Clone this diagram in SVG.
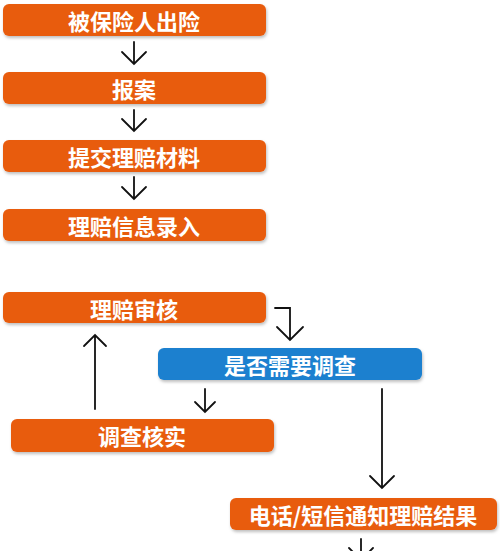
<svg xmlns="http://www.w3.org/2000/svg" width="500" height="551" viewBox="0 0 500 551">
<defs>
<filter id="sh" x="-5%" y="-20%" width="110%" height="150%">
<feDropShadow dx="1" dy="2" stdDeviation="1.5" flood-color="#000" flood-opacity="0.25"/>
</filter>
</defs>
<style>
.o{fill:#e85b0e;filter:url(#sh)}
.b{fill:#1b80cf;filter:url(#sh)}
.t{fill:#fff;font-family:"Noto Sans CJK SC","Noto Sans",sans-serif;font-weight:bold;font-size:22px;text-anchor:middle;dominant-baseline:central}
.c{fill:none;stroke:#111;stroke-width:1.8;stroke-linecap:round;stroke-linejoin:miter}
</style>
<rect width="500" height="551" fill="#fff"/>
<g id="connectors">
<path class="c" d="M134 42V64M122 52L134 64L146 52"/>
<path class="c" d="M134 110V131M122 119L134 131L146 119"/>
<path class="c" d="M134 177V199M122 187L134 199L146 187"/>
<path class="c" d="M275 308H290V340M277 327L290 340L303 327"/>
<path class="c" d="M205 389V412M195 402L205 412L215 402"/>
<path class="c" d="M95 409V335M84 346L95 335L106 346"/>
<path class="c" d="M382 389V488M370 476L382 488L394 476"/>
<path class="c" d="M361 539V560M349 548L361 560L373 548"/>
</g>
<g id="n1"><rect class="o" x="3" y="4" width="263" height="32" rx="6"/><text class="t" x="134" y="20">被保险人出险</text></g>
<g id="n2"><rect class="o" x="3" y="72" width="263" height="32" rx="6"/><text class="t" x="134" y="88">报案</text></g>
<g id="n3"><rect class="o" x="3" y="140" width="263" height="32" rx="6"/><text class="t" x="134" y="156">提交理赔材料</text></g>
<g id="n4"><rect class="o" x="3" y="209" width="263" height="32" rx="6"/><text class="t" x="134" y="225">理赔信息录入</text></g>
<g id="n5"><rect class="o" x="3" y="292" width="263" height="31" rx="6"/><text class="t" x="134" y="308">理赔审核</text></g>
<g id="n6"><rect class="b" x="158" y="348" width="264" height="32" rx="6"/><text class="t" x="290" y="364">是否需要调查</text></g>
<g id="n7"><rect class="o" x="11" y="419" width="263" height="33" rx="6"/><text class="t" x="142" y="435">调查核实</text></g>
<g id="n8"><rect class="o" x="230" y="498" width="267" height="32" rx="6"/><text class="t" x="363" y="514">电话/短信通知理赔结果</text></g>
</svg>
